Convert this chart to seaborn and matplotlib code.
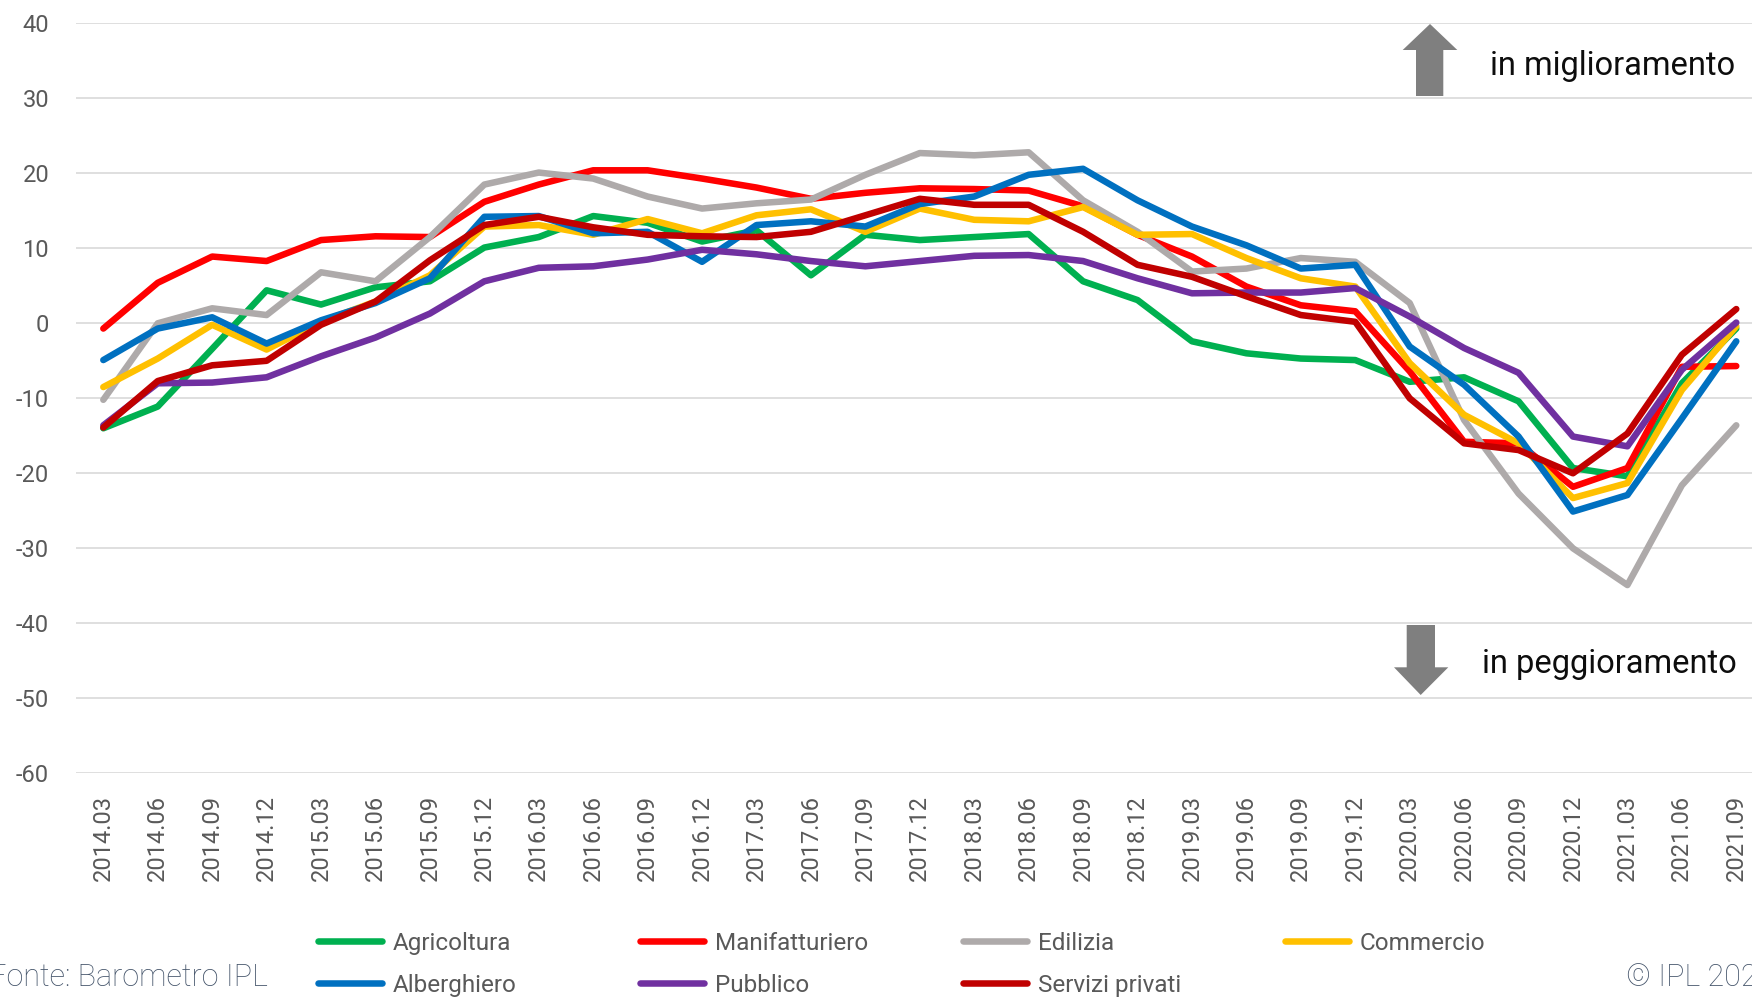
import numpy as np
import pandas as pd
import matplotlib
matplotlib.use("Agg")
import matplotlib.pyplot as plt
from matplotlib.patches import Polygon
import seaborn as sns

# ---------------- data ----------------
periods = ["2014.03", "2014.06", "2014.09", "2014.12", "2015.03", "2015.06", "2015.09", "2015.12",
           "2016.03", "2016.06", "2016.09", "2016.12", "2017.03", "2017.06", "2017.09", "2017.12",
           "2018.03", "2018.06", "2018.09", "2018.12", "2019.03", "2019.06", "2019.09", "2019.12",
           "2020.03", "2020.06", "2020.09", "2020.12", "2021.03", "2021.06", "2021.09"]

agricoltura = [-14.0, -11.1, -3.4, 4.4, 2.5, 4.8, 5.6, 10.1, 11.5, 14.3, 13.4, 10.9, 12.4, 6.4, 11.8, 11.1,
               11.5, 11.9, 5.6, 3.1, -2.4, -4.0, -4.7, -4.9, -7.8, -7.2, -10.4, -19.3, -20.4, -8.0, -0.7]
manifatturiero = [-0.7, 5.4, 8.9, 8.3, 11.1, 11.6, 11.5, 16.2, 18.5, 20.4, 20.4, 19.3, 18.1, 16.6, 17.4, 18.0,
                  17.9, 17.7, 15.6, 11.8, 8.9, 4.9, 2.4, 1.6, -6.4, -15.8, -16.0, -21.8, -19.3, -5.8, -5.7]
edilizia = [-10.2, 0.0, 2.0, 1.1, 6.8, 5.6, 11.5, 18.5, 20.1, 19.3, 16.9, 15.3, 16.0, 16.5, 19.8, 22.7,
            22.4, 22.8, 16.4, 12.2, 6.9, 7.3, 8.7, 8.2, 2.7, -12.9, -22.7, -30.0, -34.9, -21.6, -13.6]
commercio = [-8.5, -4.7, -0.2, -3.5, 0.2, 2.9, 6.4, 12.9, 13.1, 11.8, 13.9, 12.0, 14.4, 15.2, 12.2, 15.3,
             13.8, 13.6, 15.5, 11.8, 11.9, 8.7, 6.0, 4.9, -5.3, -12.2, -16.0, -23.3, -21.3, -8.9, -0.4]
alberghiero = [-4.9, -0.7, 0.8, -2.7, 0.4, 2.7, 6.0, 14.2, 14.3, 12.0, 12.2, 8.2, 13.1, 13.6, 12.9, 15.9,
               16.9, 19.8, 20.6, 16.4, 12.9, 10.4, 7.3, 7.8, -3.1, -8.2, -15.1, -25.1, -22.9, -12.7, -2.4]
pubblico = [-13.6, -8.0, -7.9, -7.2, -4.4, -1.9, 1.3, 5.6, 7.4, 7.6, 8.5, 9.8, 9.2, 8.3, 7.6, 8.3,
            9.0, 9.1, 8.3, 6.0, 4.0, 4.1, 4.1, 4.7, 0.9, -3.3, -6.6, -15.1, -16.4, -6.2, 0.1]
servizi_privati = [-13.9, -7.7, -5.6, -5.0, -0.2, 2.9, 8.4, 13.1, 14.2, 12.8, 11.8, 11.6, 11.5, 12.2, 14.4, 16.6,
                   15.8, 15.8, 12.2, 7.8, 6.2, 3.6, 1.1, 0.2, -10.0, -16.0, -16.9, -20.0, -14.7, -4.2, 1.9]

series_names = ["Agricoltura", "Manifatturiero", "Edilizia", "Commercio",
                "Alberghiero", "Pubblico", "Servizi privati"]
series_values = [agricoltura, manifatturiero, edilizia, commercio, alberghiero, pubblico, servizi_privati]
series_colors = ["#00B050", "#FF0000", "#AEAAAA", "#FFC000", "#0070C0", "#7030A0", "#C00000"]

y_ticks = [-60, -50, -40, -30, -20, -10, 0, 10, 20, 30, 40]

# ---------------- figure ----------------
W, H = 1752, 998
sns.set_theme(style="white")
plt.rcParams["font.family"] = ["Roboto", "DejaVu Sans"]

fig = plt.figure(figsize=(W / 100, H / 100), dpi=100)
fig.patch.set_facecolor("white")
ax = fig.add_axes([76.1 / W, (H - 773.3) / H, 1687.4 / W, 750.0 / H])

rows = []
for name, vals in zip(series_names, series_values):
    for i, v in enumerate(vals):
        rows.append({"idx": i, "value": v, "settore": name})
df = pd.DataFrame(rows)

sns.lineplot(data=df, x="idx", y="value", hue="settore", hue_order=series_names,
             palette=dict(zip(series_names, series_colors)), linewidth=4.7,
             sort=False, legend=False, ax=ax)
for ln in ax.get_lines():
    ln.set_solid_capstyle("round")
    ln.set_solid_joinstyle("round")

ax.set_xlim(-0.5, len(periods) - 0.5)
ax.set_ylim(-60, 40)
ax.set_yticks(y_ticks)
ax.set_yticklabels([str(t) for t in y_ticks])
ax.set_xticks(range(len(periods)))
ax.set_xticklabels(periods, rotation=90)
ax.set_xlabel("")
ax.set_ylabel("")
ax.tick_params(axis="y", length=0, pad=19.4, labelsize=17, labelcolor="#595959")
ax.tick_params(axis="x", length=0, pad=15.6, labelsize=17, labelcolor="#595959")
ax.yaxis.grid(True, color="#D9D9D9", linewidth=1.2)
ax.xaxis.grid(False)
ax.set_axisbelow(True)
for s in ax.spines.values():
    s.set_visible(False)

# ---------------- legend (4 columns, Excel-like) ----------------
lines = ax.get_lines()
handles = dict(zip(series_names, lines[:len(series_names)]))
columns = [["Agricoltura", "Alberghiero"], ["Manifatturiero", "Pubblico"],
           ["Edilizia", "Servizi privati"], ["Commercio"]]
col_x = [318, 640, 963, 1285]
for cx, names in zip(col_x, columns):
    fig.legend([handles[n] for n in names], names, loc="upper left",
               bbox_to_anchor=(cx / W, 1 - 932 / H), bbox_transform=fig.transFigure,
               frameon=False, borderpad=0, borderaxespad=0, handlelength=2.65,
               handletextpad=0.42, labelspacing=0.78, fontsize=17.5, labelcolor="#595959")

# ---------------- footer ----------------
fig.text(268 / W, 1 - 986 / H, "Fonte: Barometro IPL", ha="right", va="baseline",
         fontsize=22, color="#44546A", fontweight="light")
fig.text(1626 / W, 1 - 986 / H, "© IPL 2021", ha="left", va="baseline",
         fontsize=22, color="#44546A", fontweight="light")

# ---------------- arrows and notes ----------------
def px(x, y):
    return (x / W, 1 - y / H)

up = [px(1430, 24), px(1457.3, 50), px(1443.3, 50), px(1443.3, 96),
      px(1416, 96), px(1416, 50), px(1402.7, 50)]
down = [px(1420.7, 695), px(1448.3, 667.3), px(1435, 667.3), px(1435, 625),
        px(1406.7, 625), px(1406.7, 667.3), px(1394, 667.3)]
for poly in (up, down):
    fig.patches.append(Polygon(poly, closed=True, transform=fig.transFigure,
                               facecolor="#7F7F7F", edgecolor="none", zorder=5))

fig.text(1490 / W, 1 - 75 / H, "in miglioramento", ha="left", va="baseline",
         fontsize=23.5, color="#0D0D0D")
fig.text(1482 / W, 1 - 673 / H, "in peggioramento", ha="left", va="baseline",
         fontsize=23.5, color="#0D0D0D")

fig.savefig("out.png", dpi=100, facecolor="white")
